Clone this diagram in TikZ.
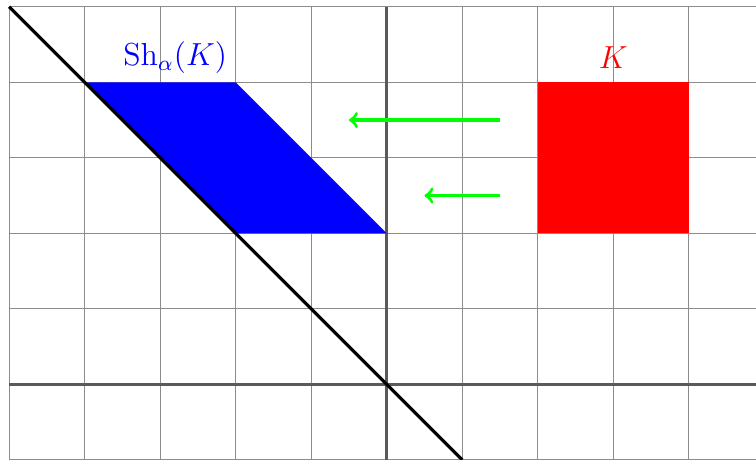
\documentclass[tikz,border=0pt]{standalone}
\usepackage{amsmath}
\usepackage{xcolor}
\definecolor{gridgray}{HTML}{8C8C8C}
\definecolor{axisgray}{HTML}{5A5A5A}

\begin{document}
\begin{tikzpicture}[
  x=1cm,
  y=1cm,
  every node/.style={font=\large},
  shiftarrow/.style={green, line width=1.2pt, ->}
]
  \useasboundingbox (-5.12,-1) rectangle (4.89,5.09);

  \draw[gridgray, line width=0.4pt] (-5,-1) grid (4.89,5);
  \draw[axisgray, line width=0.9pt] (-5,0) -- (4.89,0);
  \draw[axisgray, line width=0.9pt] (0,-1) -- (0,5);

  \fill[red] (2,2) rectangle (4,4);
  \fill[blue] (-4,4) -- (-2,4) -- (0,2) -- (-2,2) -- cycle;

  \draw[black, line width=1.2pt] (-5,5) -- (1,-1);

  \node[red] (k) at (3,4.33) {$K$};
  \node[blue] (shk) at (-2.8,4.33) {$\mathrm{Sh}_{\alpha}(K)$};

  \coordinate (a1) at (1.5,3.5);
  \coordinate (b1) at (-0.5,3.5);
  \coordinate (a2) at (1.5,2.5);
  \coordinate (b2) at (0.5,2.5);
  \draw[shiftarrow] (a1) -- (b1);
  \draw[shiftarrow] (a2) -- (b2);
\end{tikzpicture}
\end{document}
